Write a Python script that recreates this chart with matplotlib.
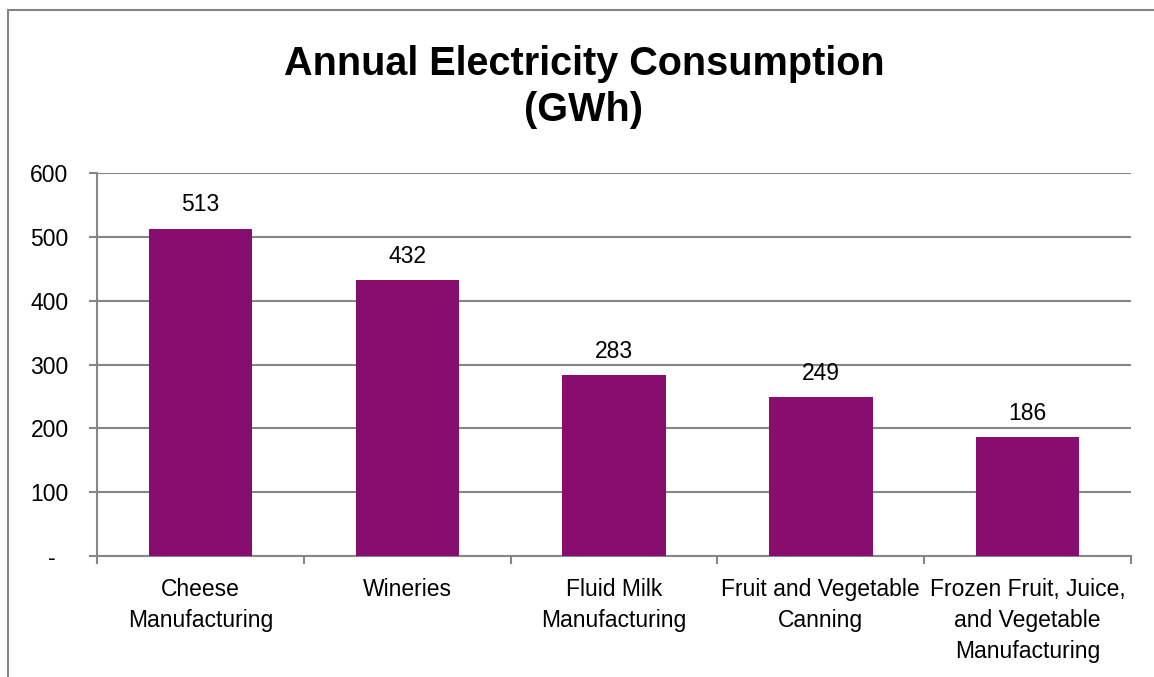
import matplotlib
matplotlib.use("Agg")
import matplotlib.pyplot as plt
from matplotlib.patches import Rectangle
from matplotlib.ticker import FixedLocator

categories = ["Cheese\nManufacturing", "Wineries", "Fluid Milk\nManufacturing",
              "Fruit and Vegetable\nCanning", "Frozen Fruit, Juice,\nand Vegetable\nManufacturing"]
values = [513, 432, 283, 249, 186]
yticks = [0, 100, 200, 300, 400, 500, 600]
ytick_labels = ["-  ", "100", "200", "300", "400", "500", "600"]
title = "Annual Electricity Consumption\n(GWh)"

plt.rcParams['font.family'] = ['Liberation Sans', 'DejaVu Sans']
W, H = 1154, 677
fig = plt.figure(figsize=(W/100, H/100), dpi=100)
ax = fig.add_axes([97/W, 1-556/H, (1131-97)/W, (556-173)/H])

gray = '#868686'
bar_color = '#870E6F'
fs = 16.5
x = list(range(len(values)))
bars = ax.bar(x, values, width=0.5, color=bar_color, zorder=3)
ax.set_xlim(-0.5, len(values)-0.5)
ax.set_ylim(0, 600)
ax.set_yticks(yticks)
ax.set_yticklabels(ytick_labels, fontsize=fs)
ax.yaxis.grid(True, color=gray, linewidth=1.5, zorder=0)
ax.set_axisbelow(True)
for s in ['top', 'right']:
    ax.spines[s].set_visible(False)
for s in ['left', 'bottom']:
    ax.spines[s].set_color(gray)
    ax.spines[s].set_linewidth(1.5)
ax.tick_params(axis='y', length=6, width=1.5, color=gray, pad=14.5)
ax.xaxis.set_major_locator(FixedLocator([i - 0.5 for i in range(len(values)+1)]))
ax.xaxis.set_major_formatter(plt.NullFormatter())
ax.xaxis.set_minor_locator(FixedLocator(x))
ax.set_xticklabels(categories, minor=True, fontsize=fs, linespacing=1.44, va='top')
ax.tick_params(axis='x', which='minor', length=0, pad=16)
ax.tick_params(axis='x', which='major', length=6, width=1.5, color=gray)

for b, v in zip(bars, values):
    ax.annotate(str(v), (b.get_x() + b.get_width()/2, v), xytext=(0, 9),
                textcoords='offset points', ha='center', va='bottom', fontsize=fs)

fig.text(584/W, 1-87/H, title, ha='center', va='center', fontsize=28.5,
         fontweight='bold', linespacing=1.25)

fig.patches.append(Rectangle((8/W, -0.1), 1.2, 1-10/H+0.1, transform=fig.transFigure,
                             fill=False, edgecolor=gray, linewidth=1.5))

fig.savefig("out.png", dpi=100)
